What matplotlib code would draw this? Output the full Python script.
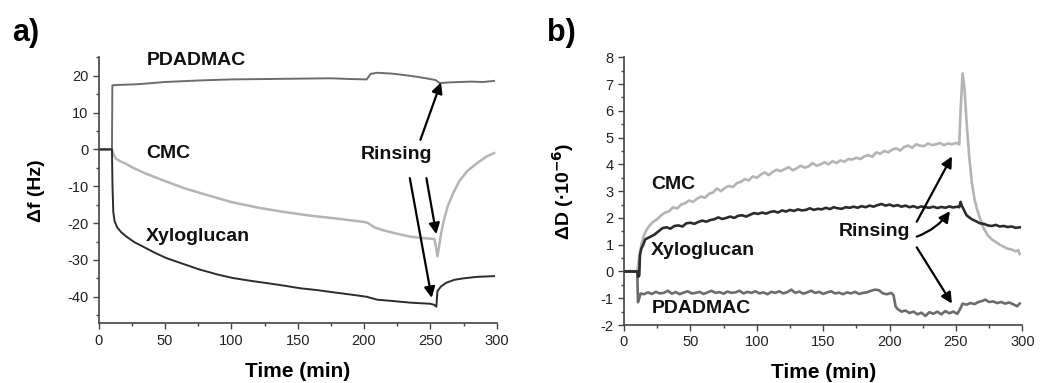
import numpy as np
import matplotlib
matplotlib.use("Agg")
import matplotlib.pyplot as plt
from matplotlib.ticker import MultipleLocator

plt.rcParams['font.family'] = ['Liberation Sans', 'DejaVu Sans']
plt.rcParams['axes.unicode_minus'] = False

# %% QCM-D data: frequency shift (a)
fa_pdadmac_t = [0, 10, 10.3, 15, 30, 50, 75, 100, 125, 150, 175, 190, 202, 205, 210, 220, 230, 240, 250, 254, 257, 265, 280, 290, 298]
fa_pdadmac = [0, 0, 17.4, 17.5, 17.7, 18.3, 18.7, 19.0, 19.1, 19.2, 19.3, 19.1, 19.0, 20.5, 20.8, 20.6, 20.2, 19.7, 19.1, 18.8, 18.0, 18.2, 18.4, 18.3, 18.6]

fa_cmc_t = [0, 10, 11, 13, 16, 20, 26, 35, 50, 65, 80, 100, 120, 140, 160, 180, 200, 203, 208, 215, 225, 235, 245, 253, 254, 255.3, 256.3, 258, 260, 263, 267, 272, 278, 285, 292, 298]
fa_cmc = [0, 0, -1.2, -2.5, -3.2, -3.8, -5.0, -6.5, -8.6, -10.6, -12.2, -14.3, -15.8, -17.0, -18.0, -18.8, -19.7, -20.0, -21.2, -22.0, -22.9, -23.7, -24.1, -24.3, -26.0, -29.0, -27.0, -23.0, -19.5, -15.5, -12.0, -8.5, -5.8, -3.8, -2.0, -1.0]

fa_xg_t = [0, 10, 10.4, 11, 12, 14, 17, 21, 27, 34, 42, 51, 63, 76, 90, 101, 115, 127, 140, 152, 165, 177, 190, 202, 210, 220, 235, 250, 253, 254.5, 255.3, 258, 262, 268, 275, 285, 298]
fa_xg = [0, 0, -10, -17, -19.5, -21.2, -22.5, -23.7, -25.2, -26.5, -28, -29.5, -31, -32.6, -34, -34.9, -35.7, -36.3, -37, -37.7, -38.2, -38.8, -39.4, -40, -40.8, -41.1, -41.6, -41.9, -42.2, -42.7, -38.5, -37.2, -36.2, -35.4, -35.0, -34.6, -34.4]

# %% QCM-D data: dissipation shift (b), units of 1e-6
db_cmc = [(0, 0), (5, 0.02), (10, 0), (10.8, 0.3), (12, 0.7), (13.5, 1.1), (15, 1.35), (17, 1.55), (19, 1.7), (22, 1.86),
          (25, 1.95), (28, 2.1), (31, 2.2), (34, 2.25), (37, 2.4), (40, 2.35), (43, 2.5), (46, 2.55), (49, 2.65), (52, 2.6),
          (55, 2.72), (58, 2.8), (61, 2.75), (64, 2.9), (67, 2.95), (70, 3.1), (73, 3.0), (76, 3.12), (79, 3.2), (82, 3.15),
          (85, 3.3), (88, 3.35), (91, 3.45), (94, 3.4), (97, 3.55), (100, 3.5), (103, 3.62), (106, 3.7), (109, 3.6), (112, 3.72),
          (115, 3.8), (118, 3.75), (121, 3.82), (124, 3.9), (127, 3.78), (130, 3.85), (133, 3.95), (136, 3.88), (139, 3.92),
          (142, 4.05), (145, 3.95), (148, 4.0), (151, 4.08), (154, 4.0), (157, 4.12), (160, 4.05), (163, 4.15), (166, 4.1),
          (169, 4.2), (172, 4.18), (175, 4.25), (178, 4.2), (181, 4.3), (184, 4.35), (187, 4.28), (190, 4.45), (193, 4.4),
          (196, 4.5), (199, 4.45), (202, 4.55), (205, 4.6), (208, 4.52), (211, 4.65), (214, 4.7), (217, 4.62), (220, 4.75),
          (223, 4.7), (226, 4.68), (229, 4.78), (232, 4.72), (235, 4.75), (238, 4.8), (241, 4.72), (244, 4.78), (247, 4.75),
          (250, 4.8), (252.5, 4.75), (253.5, 6.0), (255, 7.4), (256.5, 6.8), (258, 5.6), (260, 4.3), (262, 3.3), (264, 2.7),
          (266, 2.3), (268, 2.0), (271, 1.6), (274, 1.35), (277, 1.2), (280, 1.1), (283, 1.0), (286, 0.92), (289, 0.85),
          (292, 0.82), (295, 0.75), (297, 0.8), (298, 0.65)]

db_xg = [(0, 0), (10, 0), (10.8, -0.2), (11.5, -0.15), (12, 0.6), (13, 0.85), (14.5, 1.0), (16, 1.2), (18, 1.25), (20, 1.3),
         (23, 1.38), (26, 1.5), (29, 1.62), (32, 1.65), (35, 1.6), (38, 1.7), (41, 1.72), (44, 1.68), (47, 1.8), (50, 1.82),
         (53, 1.78), (56, 1.85), (59, 1.9), (62, 1.86), (65, 1.92), (68, 1.95), (71, 2.02), (74, 1.96), (77, 2.0), (80, 2.05),
         (83, 2.0), (86, 2.08), (89, 2.1), (92, 2.05), (95, 2.12), (98, 2.18), (101, 2.15), (104, 2.2), (107, 2.16), (110, 2.22),
         (113, 2.25), (116, 2.2), (119, 2.28), (122, 2.24), (125, 2.3), (128, 2.26), (131, 2.32), (134, 2.28), (137, 2.3),
         (140, 2.36), (143, 2.3), (146, 2.34), (149, 2.32), (152, 2.38), (155, 2.33), (158, 2.4), (161, 2.36), (164, 2.34),
         (167, 2.4), (170, 2.38), (173, 2.42), (176, 2.38), (179, 2.44), (182, 2.4), (185, 2.46), (188, 2.42), (191, 2.48),
         (194, 2.52), (197, 2.46), (200, 2.5), (203, 2.44), (206, 2.48), (209, 2.42), (212, 2.46), (215, 2.4), (218, 2.44),
         (221, 2.38), (224, 2.43), (227, 2.4), (230, 2.38), (233, 2.42), (236, 2.37), (239, 2.41), (242, 2.38), (245, 2.43),
         (248, 2.39), (251, 2.42), (252.5, 2.4), (253.5, 2.6), (254.5, 2.45), (256, 2.3), (258, 2.1), (260, 2.02), (262, 1.95),
         (265, 1.88), (268, 1.8), (271, 1.78), (274, 1.72), (277, 1.7), (280, 1.74), (283, 1.68), (286, 1.7), (289, 1.66),
         (292, 1.68), (295, 1.63), (298, 1.65)]

db_pdadmac = [(0, 0), (10, 0), (10.5, -1.15), (11.5, -1.0), (12.5, -0.82), (15, -0.85), (18, -0.78), (21, -0.84), (24, -0.76),
              (27, -0.82), (30, -0.8), (33, -0.72), (36, -0.83), (39, -0.77), (42, -0.85), (45, -0.79), (48, -0.74), (51, -0.82),
              (54, -0.8), (57, -0.76), (60, -0.84), (63, -0.78), (66, -0.72), (69, -0.8), (72, -0.77), (75, -0.83), (78, -0.75),
              (81, -0.8), (84, -0.78), (87, -0.72), (90, -0.82), (93, -0.76), (96, -0.8), (99, -0.74), (102, -0.82), (105, -0.78),
              (108, -0.85), (111, -0.76), (114, -0.8), (117, -0.74), (120, -0.82), (123, -0.77), (126, -0.68), (129, -0.8),
              (132, -0.75), (135, -0.83), (138, -0.78), (141, -0.72), (144, -0.8), (147, -0.76), (150, -0.84), (153, -0.78),
              (156, -0.74), (159, -0.82), (162, -0.79), (165, -0.85), (168, -0.78), (171, -0.82), (174, -0.76), (177, -0.84),
              (180, -0.8), (183, -0.78), (186, -0.72), (189, -0.68), (192, -0.7), (195, -0.82), (198, -0.85), (201, -0.8),
              (203, -0.88), (204.5, -1.3), (206, -1.4), (209, -1.5), (212, -1.46), (215, -1.55), (218, -1.5), (221, -1.6),
              (224, -1.54), (227, -1.66), (230, -1.52), (233, -1.58), (236, -1.5), (239, -1.6), (242, -1.48), (245, -1.56),
              (248, -1.5), (251, -1.58), (253, -1.42), (255, -1.2), (258, -1.24), (261, -1.18), (264, -1.22), (267, -1.14),
              (270, -1.1), (272, -1.05), (275, -1.14), (278, -1.12), (281, -1.18), (284, -1.14), (287, -1.2), (290, -1.16),
              (293, -1.22), (296, -1.3), (298, -1.2)]

xticks = [0, 50, 100, 150, 200, 250, 300]

c_pdadmac = '#6c6c6c'
c_cmc = '#b4b4b4'
c_xg = '#2c2c2c'

# %% Figure
fig = plt.figure(figsize=(10.4, 3.83), dpi=100)
ax_a = fig.add_axes([0.0949, 0.1559, 0.3827, 0.6945])
ax_b = fig.add_axes([0.6, 0.1514, 0.383, 0.699])


def style_axis(ax):
    for s in ['top', 'right']:
        ax.spines[s].set_visible(False)
    for s in ['left', 'bottom']:
        ax.spines[s].set_color('#444444')
        ax.spines[s].set_linewidth(1.2)
    ax.tick_params(which='major', direction='out', length=4, width=1, color='#444444',
                   labelsize=10.5, labelcolor='#222222')
    ax.tick_params(which='minor', direction='out', length=2.5, width=1, color='#444444')
    ax.set_xlim(0, 300)
    ax.set_xticks(xticks)
    ax.xaxis.set_minor_locator(MultipleLocator(25))
    ax.set_xlabel('Time (min)', fontsize=15, fontweight='bold', labelpad=10)


# panel a
ax_a.plot(fa_cmc_t, fa_cmc, color=c_cmc, lw=1.8)
ax_a.plot(fa_pdadmac_t, fa_pdadmac, color=c_pdadmac, lw=1.4)
ax_a.plot(fa_xg_t, fa_xg, color=c_xg, lw=1.4)
style_axis(ax_a)
ax_a.set_ylim(-47.2, 25)
ax_a.set_yticks([-40, -30, -20, -10, 0, 10, 20])
ax_a.yaxis.set_minor_locator(MultipleLocator(5))
ax_a.set_ylabel('\u0394f (Hz)', fontsize=14, fontweight='bold', labelpad=16)

lbl = dict(fontsize=14, fontweight='bold', va='center', ha='left', color='#111111')
ax_a.text(36, 24.1, 'PDADMAC', **lbl)
ax_a.text(35.5, -1.2, 'CMC', **lbl)
ax_a.text(35.5, -23.7, 'Xyloglucan', **lbl)
ax_a.text(197.5, -1.5, 'Rinsing', **lbl)

arr = dict(arrowstyle='-|>', color='black', lw=1.6, mutation_scale=16, shrinkA=0, shrinkB=0)
ax_a.annotate('', xy=(258, 18.2), xytext=(242.5, 2.6), arrowprops=arr)
ax_a.annotate('', xy=(254.5, -23.0), xytext=(247, -7.8), arrowprops=arr)
ax_a.annotate('', xy=(251, -40.3), xytext=(234.5, -7.8), arrowprops=arr)

# panel b
t, v = zip(*db_cmc)
ax_b.plot(t, v, color=c_cmc, lw=1.9)
t, v = zip(*db_pdadmac)
ax_b.plot(t, v, color=c_pdadmac, lw=1.9)
t, v = zip(*db_xg)
ax_b.plot(t, v, color=c_xg, lw=1.9)
style_axis(ax_b)
ax_b.set_ylim(-2, 8)
ax_b.set_yticks(range(-2, 9))
ax_b.yaxis.set_minor_locator(MultipleLocator(0.5))
ax_b.set_ylabel('\u0394D (\u00b710$^{\\mathbf{-6}}$)', fontsize=14, fontweight='bold', labelpad=18)

ax_b.text(20.8, 3.23, 'CMC', **lbl)
ax_b.text(20.3, 0.8, 'Xyloglucan', **lbl)
ax_b.text(20.8, -1.38, 'PDADMAC', **lbl)
ax_b.text(161.5, 1.49, 'Rinsing', **lbl)

ax_b.annotate('', xy=(247, 4.3), xytext=(220.5, 1.86), arrowprops=arr)
ax_b.annotate('', xy=(245.5, 2.25), xytext=(220.5, 1.3),
              arrowprops=dict(arr, connectionstyle='arc3,rad=0.15'))
ax_b.annotate('', xy=(247, -1.2), xytext=(220.5, 0.9), arrowprops=arr)

# panel letters
fig.text(0.012, 0.913, 'a)', fontsize=22, fontweight='bold', va='center', ha='left')
fig.text(0.526, 0.913, 'b)', fontsize=22, fontweight='bold', va='center', ha='left')

fig.savefig('out.png', dpi=100)
